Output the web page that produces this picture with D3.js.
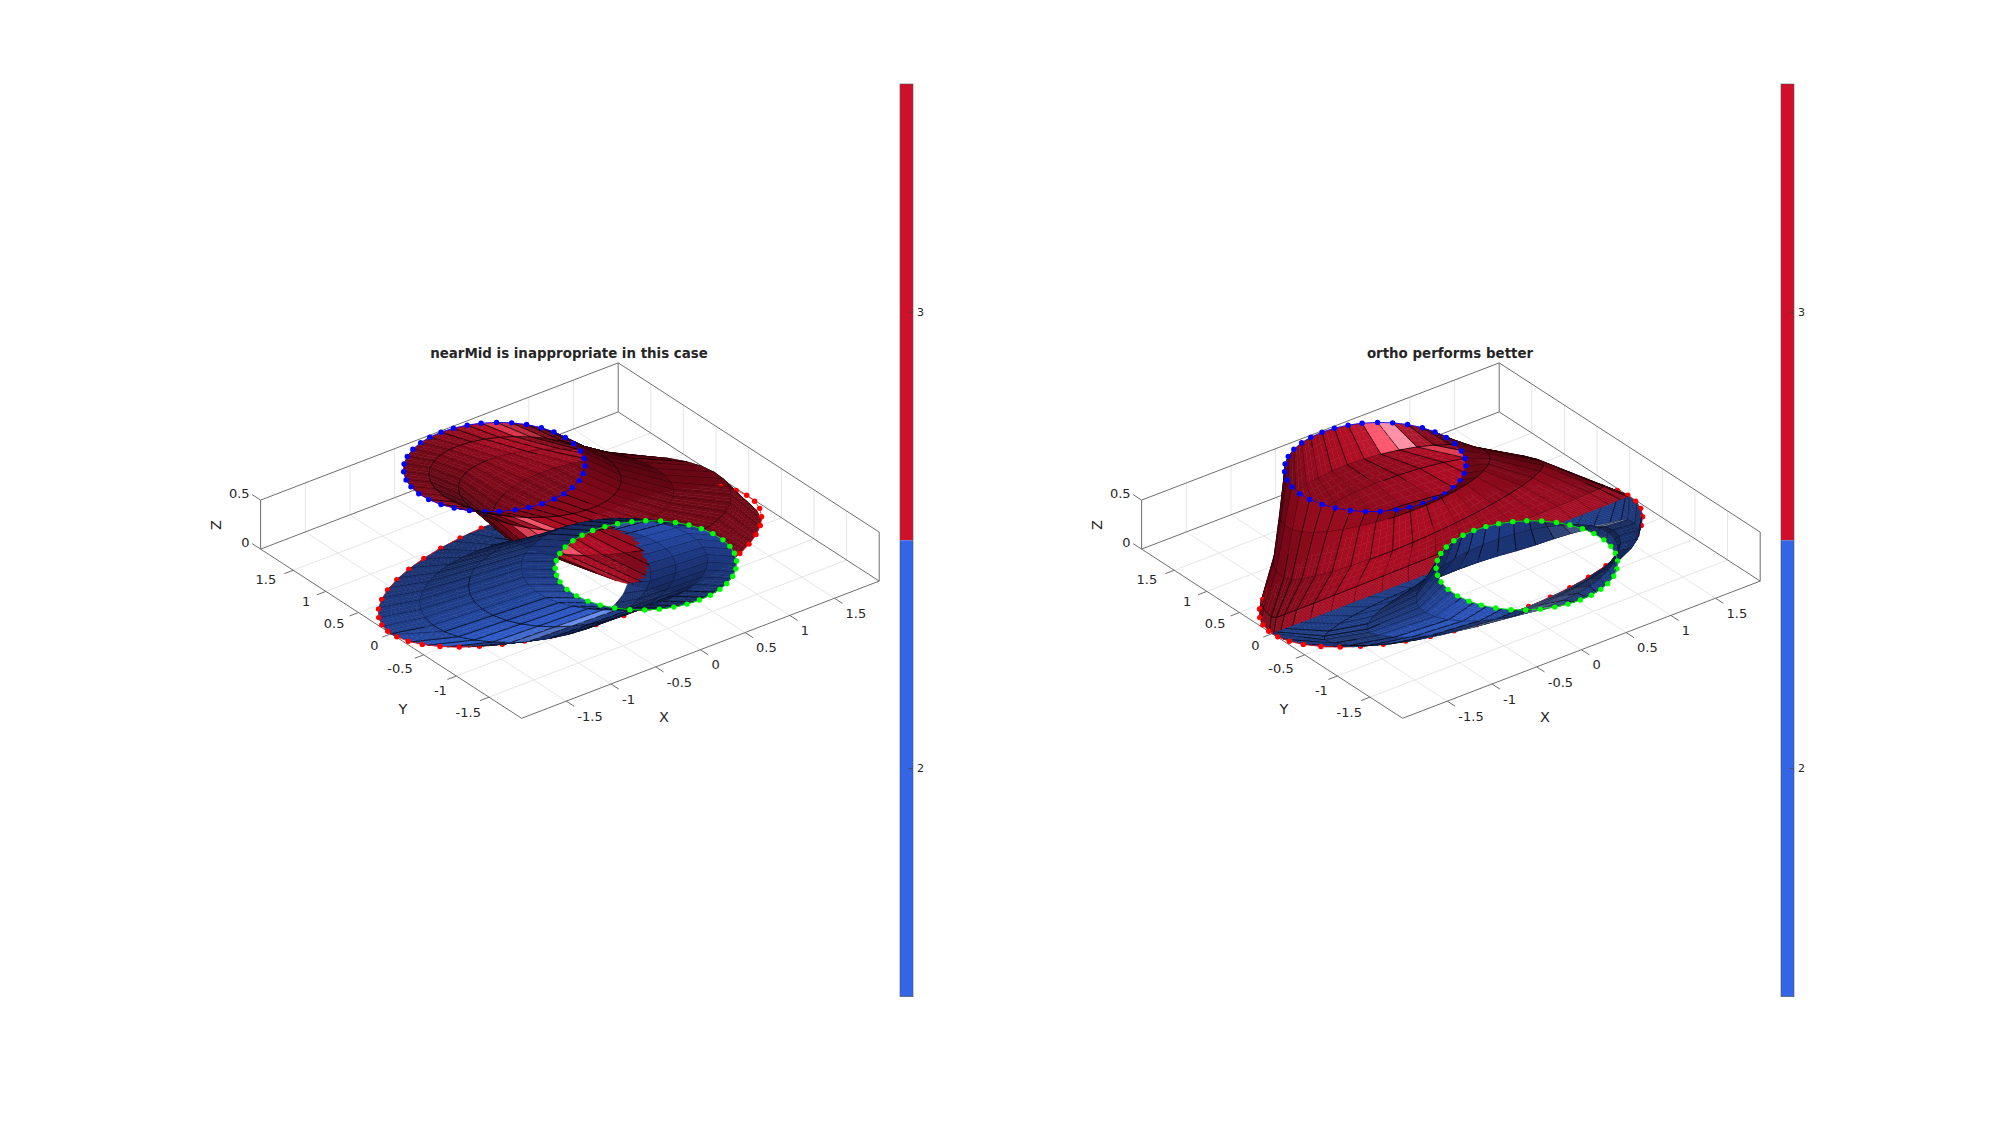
<!DOCTYPE html>
<html>
<head>
<meta charset="utf-8">
<style>
  html, body { margin: 0; padding: 0; background: #fff; }
  text { font-family: "DejaVu Sans", sans-serif; fill: #262626; }
</style>
<script src="https://cdn.jsdelivr.net/npm/d3@7"></script>
</head>
<body>
<svg id="chart" width="2000" height="1121"></svg>
<script>
// ---- data ----
var panelTitles = ["nearMid is inappropriate in this case", "ortho performs better"];
var xTicks = [-1.5, -1, -0.5, 0, 0.5, 1, 1.5];
var yTicks = [-1.5, -1, -0.5, 0, 0.5, 1, 1.5];
var zTicks = [0, 0.5];
var colorbarTicks = [2, 3];

// marker angles (deg) round each ring
var blueAngles = [62.2, 52.4, 42.8, 33.0, 22.6, 12.7, 2.3, -7.5, -18, -28.1, -37.7, -47.6, -56.7, -66.6, -76, -84.8, -94.3, -103.8, -112.8, -123, -132.2, -142, -152.3, -162, -172.4, 177.6, 167.3, 157.7, 147, 137.1, 127.2, 117.6, 108, 99.1, 89.7, 80.6, 71.2];
var greenAngles = [72.0, 62.8, 54.0, 44.5, 34.9, 25.6, 16.2, 6.3, -4.2, -13.8, -23.3, -33.5, -43.5, -53.1, -63.2, -71.5, -80.9, -90, -99.2, -108.2, -117.6, -126.9, -136.3, -146.2, -156.3, -165.8, -176, 173.4, 162.8, 153.8, 144.6, 134.7, 125.4, 116.6, 107.4, 98.6, 89.7, 80.7];
var redAngles = [96.4, 103.8, 111.2, 118.5, 126, 133.4, 140.9, 147.9, 155.6, 163, 170, 177, 184.3, 191.4, 198.5, 206.2, 213.6, 220.7, 228.2, 235.2, 242.7, 249.8, 256.7, 265.2, 272.8, 280.1, 287.2, 294.7, 302.8, 311.3, 318, 325, 332.1, 339.3, 347, 354.4, 1.6, 8.7, 17.1, 24.5, 32, 39, 46.5, 53.5, 61, 68, 75, 82, 89];

// ring centres and radii
var blueCentre = [0, 1.16, 0.5];
var greenCentre = [0, -1.165, 0.5];
var smallRadius = 0.82;
var redRadii = [2, 1.06];

// loft sections from the small ring (first) to the big ellipse (last), left panel
var tubeRedX = [0, 0.193, 0.521, 0.841, 1.0];
var tubeRedY = [1.16, 0.952, 0.774, 0.507, 0.2];
var tubeRedZ = [0.5, 0.42, 0.25, 0.09, 0];
var tubeRedTilt = [0, 0.104, 0.16, 0.08, 0];
var tubeRedRx = [0.82, 0.89, 1.03, 1.17, 0.95];
var tubeRedRyUp = [0.82, 0.83, 0.86, 0.89, 0.4];
var tubeRedRyDown = [0.82, 0.83, 0.86, 0.89, 1.5];

var tubeBlueX = [0, -0.12, -0.38, -0.58, -0.77];
var tubeBlueY = [-1.165, -0.85, -0.56, -0.27, 0.03];
var tubeBlueZ = [0.5, 0.42, 0.25, 0.08, 0];
var tubeBlueTilt = [0, 0, 0, 0, 0];
var tubeBlueRx = [0.82, 0.85, 0.98, 1.12, 1.24];
var tubeBlueRyUp = [0.82, 0.83, 0.86, 0.89, 1.3];
var tubeBlueRyDown = [0.82, 0.83, 0.86, 0.89, 1.03];

// same for the right panel
var coneRedY = [1.16, 0.98, 0.58, 0.18, 0];
var coneRedZ = [0.5, 0.348, 0.211, 0.053, 0];
var coneRedTiltX = [0, 0.061, 0.109, 0.027, 0];
var coneRedTiltS = [0, -0.181, -0.118, -0.077, 0];
var coneRedRx = [0.82, 1.03, 1.42, 1.85, 2];
var coneRedRyOuter = [0.82, 0.847, 0.908, 0.997, 1.06];
var coneRedRyInner = [0.82, 0.714, 0.476, 0.13, 0];

var coneBlueY = [-1.165, -0.98, -0.58, -0.4, 0];
var coneBlueZ = [0.5, 0.36, 0.1, 0.02, 0];
var coneBlueTiltX = [0, 0.09, 0.08, 0.02, 0];
var coneBlueTiltS = [0, -0.1, -0.17, -0.1, 0];
var coneBlueRx = [0.82, 0.973, 1.316, 1.7, 2];
var coneBlueRyOuter = [0.82, 0.847, 0.908, 0.85, 1.06];
var coneBlueRyInner = [0.82, 0.714, 0.476, 0.3, 0];

// ---- layout ----
var panelShift = [0, 881];
var cx = 569.9, cy = 565.1;
var view = [-0.522, -0.715, 0.491];
var redGlint = [-0.63, -0.74, 0.2];
var blueGlints = [[-0.62, -0.75, -0.24], [0.14, 0.48, 0.87]];
var redBase = [208, 16, 43], blueBase = [51, 102, 230];

var xH = d3.scaleLinear().domain([-2, 2]).range([-178.8, 178.8]);
var xV = d3.scaleLinear().domain([-2, 2]).range([68.6, -68.6]);
var yH = d3.scaleLinear().domain([-2, 2]).range([130.5, -130.5]);
var yV = d3.scaleLinear().domain([-2, 2]).range([84.6, -84.6]);
var zV = d3.scaleLinear().domain([0, 0.5]).range([0, -49]);
var barY = d3.scaleLinear().domain([1.5, 3.5]).range([996.7, 84]);

function project(p) {
  return [cx + xH(p[0]) + yH(p[1]), cy + xV(p[0]) + yV(p[1]) + zV(p[2])];
}
function dot(a, b) { return a[0] * b[0] + a[1] * b[1] + a[2] * b[2]; }
function depth(p) { return dot(view, p); }
function rad(a) { return a * Math.PI / 180; }
function mix(a, b, t) { return [a[0] + (b[0] - a[0]) * t, a[1] + (b[1] - a[1]) * t, a[2] + (b[2] - a[2]) * t]; }

function ringPoint(centre, rx, ry, angle) {
  return [centre[0] + rx * Math.cos(rad(angle)), centre[1] + ry * Math.sin(rad(angle)), centre[2]];
}

// keep the last section of the tubes inside the big ellipse
function clipToEllipse(p) {
  var t = 1 - (p[0] * p[0]) / (redRadii[0] * redRadii[0]);
  var lim = redRadii[1] * Math.sqrt(Math.max(0, t));
  return [p[0], Math.max(-lim, Math.min(lim, p[1])), p[2]];
}

function buildTube(sx, sy, sz, tilt, srx, ryUp, ryDown) {
  return sx.map(function(_, k) {
    return blueAngles.map(function(a) {
      var c = Math.cos(rad(a)), s = Math.sin(rad(a));
      var ry = s > 0 ? ryUp[k] : ryDown[k];
      var p = [sx[k] + srx[k] * c, sy[k] + ry * s, sz[k] - tilt[k] * c];
      return k === sx.length - 1 ? clipToEllipse(p) : p;
    });
  });
}

// side = 1 for the patch behind the mid line, -1 for the one in front of it
function buildCone(sy, sz, tiltX, tiltS, srx, ryOuter, ryInner, side) {
  return sy.map(function(_, k) {
    return blueAngles.map(function(a) {
      var c = Math.cos(rad(a)), s = Math.sin(rad(a));
      var ry = s * side > 0 ? ryOuter[k] : ryInner[k];
      return [srx[k] * c, sy[k] + ry * s, Math.max(0, sz[k] + tiltX[k] * c + tiltS[k] * s)];
    });
  });
}

function shade(base, glint, specAmount, a, b, c, d) {
  var u = [c[0] - a[0], c[1] - a[1], c[2] - a[2]];
  var w = [d[0] - b[0], d[1] - b[1], d[2] - b[2]];
  var n = [u[1] * w[2] - u[2] * w[1], u[2] * w[0] - u[0] * w[2], u[0] * w[1] - u[1] * w[0]];
  var len = Math.sqrt(dot(n, n)) || 1;
  var diff = Math.abs(dot(n, view) / len);
  var spec = Math.pow(Math.abs(dot(n, glint) / len), 50);
  var f = 0.27 + 0.6 * diff;
  return "rgb(" + base.map(function(v) {
    return Math.round(Math.min(255, v * f + specAmount * spec));
  }).join(",") + ")";
}

function pathOf(points, close) {
  return "M" + points.map(function(p) {
    var s = project(p);
    return s[0].toFixed(2) + "," + s[1].toFixed(2);
  }).join("L") + (close ? "Z" : "");
}

// split faces in small pieces so painter sorting holds up on long faces and where patches cross
function patchItems(verts, base, glint, specAmount, items) {
  var rows = verts.length, cols = verts[0].length, n = 3;
  for (var k = 0; k < rows - 1; k++) {
    var m = k === rows - 2 ? 10 : 4;
    for (var j = 0; j < cols; j++) {
      var j2 = (j + 1) % cols;
      var a = verts[k][j], b = verts[k][j2], c = verts[k + 1][j2], d = verts[k + 1][j];
      var fill = shade(base, glint, specAmount, a, b, c, d);
      for (var i = 0; i < m; i++) {
        var t0 = i / m, t1 = (i + 1) / m;
        var left0 = mix(a, d, t0), left1 = mix(a, d, t1), right0 = mix(b, c, t0), right1 = mix(b, c, t1);
        for (var h = 0; h < n; h++) {
          var q = [mix(left0, right0, h / n), mix(left0, right0, (h + 1) / n), mix(left1, right1, (h + 1) / n), mix(left1, right1, h / n)];
          var mid = mix(mix(q[0], q[2], 0.5), mix(q[1], q[3], 0.5), 0.5);
          items.push({ d: depth(mid), path: pathOf(q, true), fill: fill, stroke: fill, width: 0.5, opacity: 1 });
        }
        items.push({ d: depth(mix(left0, left1, 0.5)) + 0.015, path: pathOf([left0, left1]), fill: "none", stroke: "#000", width: 0.9, opacity: 0.85 });
      }
      if (k > 0) {
        for (var e = 0; e < n; e++) {
          var p0 = mix(a, b, e / n), p1 = mix(a, b, (e + 1) / n);
          items.push({ d: depth(mix(p0, p1, 0.5)) + 0.015, path: pathOf([p0, p1]), fill: "none", stroke: "#000", width: 0.9, opacity: 0.85 });
        }
      }
    }
  }
}

function ringItems(centre, rx, ry, angles, color, items) {
  angles.forEach(function(a, i) {
    var p = ringPoint(centre, rx, ry, a);
    var q = ringPoint(centre, rx, ry, angles[(i + 1) % angles.length]);
    items.push({ d: depth(mix(p, q, 0.5)) + 0.03, path: pathOf([p, q]), fill: "none", stroke: color, width: 1, opacity: 0.8 });
    var s = project(p);
    items.push({ d: depth(p) + 0.04, circle: s, fill: color });
  });
}

var svg = d3.select("#chart");
svg.append("rect").attr("width", 2000).attr("height", 1121).attr("fill", "#fff");

function line3(g, a, b, color, width) {
  var s = project(a), t = project(b);
  g.append("line").attr("x1", s[0]).attr("y1", s[1]).attr("x2", t[0]).attr("y2", t[1])
    .attr("stroke", color).attr("stroke-width", width);
}

function drawAxes(g) {
  // grid on the floor and on the two back walls
  xTicks.forEach(function(v) {
    line3(g, [v, -2, 0], [v, 2, 0], "#e6e6e6", 1);
    line3(g, [v, 2, 0], [v, 2, 0.5], "#e6e6e6", 1);
  });
  yTicks.forEach(function(v) {
    line3(g, [-2, v, 0], [2, v, 0], "#e6e6e6", 1);
    line3(g, [2, v, 0], [2, v, 0.5], "#e6e6e6", 1);
  });
  var box = [
    [[-2, -2, 0], [2, -2, 0]], [[-2, -2, 0], [-2, 2, 0]], [[-2, 2, 0], [2, 2, 0]], [[2, -2, 0], [2, 2, 0]],
    [[-2, 2, 0], [-2, 2, 0.5]], [[2, 2, 0], [2, 2, 0.5]], [[2, -2, 0], [2, -2, 0.5]],
    [[-2, 2, 0.5], [2, 2, 0.5]], [[2, 2, 0.5], [2, -2, 0.5]]
  ];
  box.forEach(function(e) { line3(g, e[0], e[1], "#6e6e6e", 1); });

  xTicks.forEach(function(v) {
    line3(g, [v, -2, 0], [v, -2.12, 0], "#6e6e6e", 1);
    var s = project([v, -2, 0]);
    g.append("text").attr("x", s[0] + 11).attr("y", s[1] + 15).attr("dy", "0.36em")
      .attr("font-size", 13).text(v);
  });
  yTicks.forEach(function(v) {
    line3(g, [-2, v, 0], [-2.1, v, 0], "#6e6e6e", 1);
    var s = project([-2, v, 0]);
    g.append("text").attr("x", s[0] - 12.5 - 3 * v).attr("y", s[1] + 12 - 2.2 * v).attr("dy", "0.36em")
      .attr("text-anchor", "end").attr("font-size", 13).text(v);
  });
  zTicks.forEach(function(v) {
    line3(g, [-2, 2, v], [-2, 2.13, v], "#6e6e6e", 1);
    var s = project([-2, 2, v]);
    g.append("text").attr("x", s[0] - 11).attr("y", s[1] - 7).attr("dy", "0.36em")
      .attr("text-anchor", "end").attr("font-size", 13).text(v);
  });
  g.append("text").attr("x", 664).attr("y", 716.7).attr("dy", "0.36em").attr("text-anchor", "middle")
    .attr("font-size", 14.5).text("X");
  g.append("text").attr("x", 403).attr("y", 708.3).attr("dy", "0.36em").attr("text-anchor", "middle")
    .attr("font-size", 14.5).text("Y");
  g.append("text").attr("transform", "translate(216,525) rotate(-90)").attr("dy", "0.36em").attr("text-anchor", "middle")
    .attr("font-size", 14.5).text("Z");
}

function drawColorbar(g) {
  g.append("rect").attr("x", 900).attr("width", 13).attr("y", barY(3.5)).attr("height", barY(2.5) - barY(3.5)).attr("fill", "#d0102b");
  g.append("rect").attr("x", 900).attr("width", 13).attr("y", barY(2.5)).attr("height", barY(1.5) - barY(2.5)).attr("fill", "#3366e6");
  g.append("rect").attr("x", 900).attr("width", 13).attr("y", barY(3.5)).attr("height", barY(1.5) - barY(3.5))
    .attr("fill", "none").attr("stroke", "#555").attr("stroke-width", 0.6);
  colorbarTicks.forEach(function(v) {
    g.append("line").attr("x1", 908.5).attr("x2", 913).attr("y1", barY(v)).attr("y2", barY(v)).attr("stroke", "#444").attr("stroke-width", 0.7);
    g.append("text").attr("x", 917).attr("y", barY(v)).attr("dy", "0.36em").attr("font-size", 11).text(v);
  });
}

panelTitles.forEach(function(title, idx) {
  var g = svg.append("g").attr("transform", "translate(" + panelShift[idx] + ",0)");
  drawAxes(g);
  drawColorbar(g);
  g.append("text").attr("x", 569).attr("y", 352.7).attr("dy", "0.36em").attr("text-anchor", "middle")
    .attr("font-size", 13.4).attr("font-weight", "bold").text(title);

  var items = [];
  if (idx === 0) {
    patchItems(buildTube(tubeRedX, tubeRedY, tubeRedZ, tubeRedTilt, tubeRedRx, tubeRedRyUp, tubeRedRyDown), redBase, redGlint, 220, items);
    patchItems(buildTube(tubeBlueX, tubeBlueY, tubeBlueZ, tubeBlueTilt, tubeBlueRx, tubeBlueRyUp, tubeBlueRyDown), blueBase, blueGlints[0], 90, items);
  } else {
    patchItems(buildCone(coneRedY, coneRedZ, coneRedTiltX, coneRedTiltS, coneRedRx, coneRedRyOuter, coneRedRyInner, 1), redBase, redGlint, 220, items);
    patchItems(buildCone(coneBlueY, coneBlueZ, coneBlueTiltX, coneBlueTiltS, coneBlueRx, coneBlueRyOuter, coneBlueRyInner, -1), blueBase, blueGlints[1], 90, items);
  }
  ringItems([0, 0, 0], redRadii[0], redRadii[1], redAngles, "#ff0000", items);
  ringItems(blueCentre, smallRadius, smallRadius, blueAngles, "#0000ff", items);
  ringItems(greenCentre, smallRadius, smallRadius, greenAngles, "#00ff00", items);
  items.sort(function(a, b) { return a.d - b.d; });

  var surf = g.append("g");
  items.forEach(function(it) {
    if (it.circle) {
      surf.append("circle").attr("cx", it.circle[0]).attr("cy", it.circle[1]).attr("r", 2.7).attr("fill", it.fill);
    } else {
      surf.append("path").attr("d", it.path).attr("fill", it.fill).attr("stroke", it.stroke)
        .attr("stroke-width", it.width).attr("stroke-opacity", it.opacity);
    }
  });
});
</script>
</body>
</html>
